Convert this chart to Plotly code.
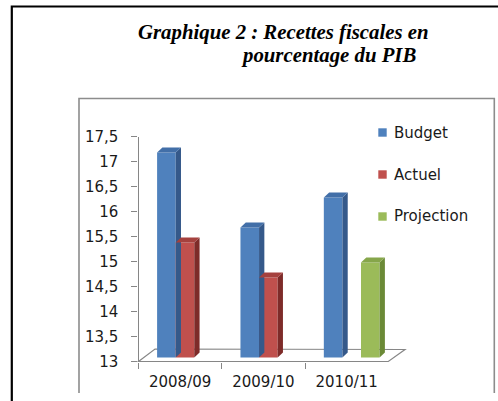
import plotly.graph_objects as go

# ---------------- data ----------------
categories = ["2008/09", "2009/10", "2010/11"]
series_names = ["Budget", "Actuel", "Projection"]
budget = [17.1, 15.6, 16.2]
actuel = [15.3, 14.6, None]
projection = [None, None, 14.9]
y_tick_vals = [13, 13.5, 14, 14.5, 15, 15.5, 16, 16.5, 17, 17.5]
y_tick_labels = ["13", "13,5", "14", "14,5", "15", "15,5", "16", "16,5", "17", "17,5"]
title_line1 = "Graphique 2 : Recettes fiscales en"
title_line2 = "pourcentage du PIB"

# ---------------- styles ----------------
W, H = 498, 401
front_colors = ["#4F81BD", "#C0504D", "#9BBB59"]
side_colors = ["#35598A", "#7E2B29", "#6B8A37"]
top_colors = ["#426FA8", "#A5413E", "#86A64A"]
axis_color = "#868686"
font_family = "DejaVu Sans"
Y_MIN, Y_MAX = 13, 17.5


def fx(px):
    return px / W


def fy(py):
    return 1 - py / H


BARGAP = 0.331
n_series = len(series_names)
bar_w = (1 - BARGAP) / n_series
cat_px = (393.4 - 143.3) / 3.0
depth_x = 5.3 / cat_px          # in category units
depth_y = 5.0 / 50.0            # in value units (50 px per unit)

fig = go.Figure()

# invisible trace that activates the category axis carrying the labels
fig.add_trace(go.Scatter(x=categories, y=[Y_MIN] * len(categories), mode="markers",
                         marker=dict(opacity=0), showlegend=False, hoverinfo="skip",
                         xaxis="x", yaxis="y"))

all_series = [budget, actuel, projection]
shapes = []
for k, (name, vals) in enumerate(zip(series_names, all_series)):
    fig.add_trace(go.Bar(
        x=list(range(len(categories))), y=vals, name=name,
        marker=dict(color=front_colors[k], line=dict(width=0)),
        xaxis="x2", yaxis="y2", showlegend=False,
        hovertext=categories, hoverinfo="text+y",
    ))
    # 3D side and top faces, computed from the values
    for i, v in enumerate(vals):
        if v is None:
            continue
        c = i + (k - (n_series - 1) / 2) * bar_w
        left, right = c - bar_w / 2, c + bar_w / 2
        side = (f"M {right},{Y_MIN} L {right + depth_x},{Y_MIN + depth_y} "
                f"L {right + depth_x},{v + depth_y} L {right},{v} Z")
        top = (f"M {left},{v} L {left + depth_x},{v + depth_y} "
               f"L {right + depth_x},{v + depth_y} L {right},{v} Z")
        shapes.append(dict(type="path", path=side, xref="x2", yref="y2",
                           fillcolor=side_colors[k], line=dict(width=0), layer="above"))
        shapes.append(dict(type="path", path=top, xref="x2", yref="y2",
                           fillcolor=top_colors[k], line=dict(width=0), layer="above"))

# floor of the 3D chart
floor = (f"M {fx(138.5)},{fy(361.5)} L {fx(155)},{fy(349)} L {fx(405)},{fy(349.5)} "
         f"L {fx(388.3)},{fy(361.5)} Z")
shapes.append(dict(type="path", path=floor, xref="paper", yref="paper",
                   line=dict(color=axis_color, width=1.2), fillcolor="white", layer="below"))

# inner chart border (gray) and outer frame (black)
inner = f"M {fx(79)},{fy(393)} L {fx(79)},{fy(98.5)} L {fx(494.3)},{fy(98.5)} L {fx(494.3)},{fy(393)}"
shapes.append(dict(type="path", path=inner, xref="paper", yref="paper",
                   line=dict(color="#8C8C8C", width=1.6)))
outer = f"M {fx(11.8)},{fy(420)} L {fx(11.8)},{fy(6.5)} L {fx(520)},{fy(6.5)}"
shapes.append(dict(type="path", path=outer, xref="paper", yref="paper",
                   line=dict(color="black", width=2.2)))

annotations = [
    dict(text=f"<b><i>{title_line1}</i></b>", x=fx(283.5), y=fy(32), xref="paper", yref="paper",
         showarrow=False, xanchor="center", yanchor="middle",
         font=dict(family="Liberation Serif", size=20.8, color="black")),
    dict(text=f"<b><i>{title_line2}</i></b>", x=fx(328.5), y=fy(55), xref="paper", yref="paper",
         showarrow=False, xanchor="center", yanchor="middle",
         font=dict(family="Liberation Serif", size=20.8, color="black")),
]

# legend (squares + labels)
for k, name in enumerate(series_names):
    cy = 132.5 + 42 * k
    shapes.append(dict(type="rect", xref="paper", yref="paper",
                       x0=fx(378.3), x1=fx(386.7), y0=fy(cy + 4.2), y1=fy(cy - 4.2),
                       fillcolor=front_colors[k], line=dict(width=0)))
    annotations.append(dict(text=name, x=fx(391.5), y=fy(cy), xref="paper", yref="paper",
                            showarrow=False, xanchor="left", yanchor="middle",
                            font=dict(family=font_family, size=15, color="#1a1a1a")))

fig.update_layout(
    width=W, height=H,
    margin=dict(l=0, r=0, t=0, b=0, pad=0, autoexpand=False),
    paper_bgcolor="white", plot_bgcolor="rgba(0,0,0,0)",
    barmode="group", bargap=BARGAP, bargroupgap=0,
    showlegend=False,
    separators=", ",
    shapes=shapes, annotations=annotations,
    xaxis=dict(domain=[fx(138.5), fx(388.3)], type="category", categoryarray=categories,
               range=[-0.5, 2.5], tickson="boundaries", ticks="outside", ticklen=6,
               tickcolor=axis_color, tickwidth=1.2, showline=False, showgrid=False,
               zeroline=False, anchor="y", ticklabelstandoff=9, automargin=False,
               tickfont=dict(family=font_family, size=15, color="#1a1a1a")),
    yaxis=dict(domain=[fy(361.5), fy(136.5)], range=[Y_MIN, Y_MAX],
               tickmode="array", tickvals=y_tick_vals, ticktext=y_tick_labels,
               ticks="outside", ticklen=6, tickcolor=axis_color, tickwidth=1.2,
               showline=True, linecolor=axis_color, linewidth=1.2, showgrid=False,
               zeroline=False, anchor="x", ticklabelstandoff=10, automargin=False,
               tickfont=dict(family=font_family, size=15, color="#1a1a1a")),
    xaxis2=dict(domain=[fx(143.3), fx(393.4)], range=[-0.5, 2.5], visible=False,
                anchor="y2", fixedrange=True, automargin=False),
    yaxis2=dict(domain=[fy(357.5), fy(132.5)], range=[Y_MIN, Y_MAX], visible=False,
                anchor="x2", fixedrange=True, automargin=False),
)

fig.write_html("out.html", config={"displayModeBar": False},
               post_script="document.body.style.margin='0';document.body.style.overflow='hidden';")
